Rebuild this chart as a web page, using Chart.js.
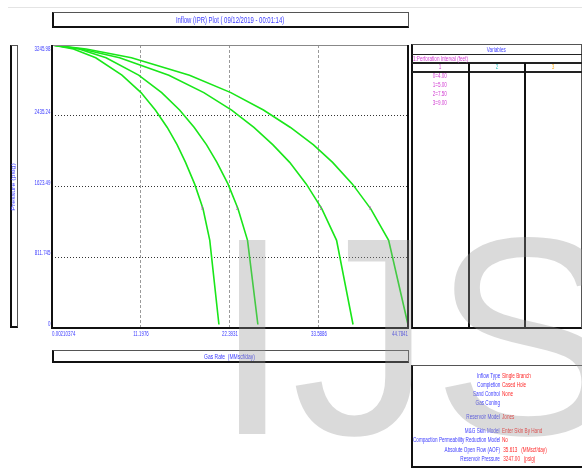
<!DOCTYPE html>
<html>
<head>
<meta charset="utf-8">
<title>Inflow (IPR) Plot</title>
<script src="https://cdn.jsdelivr.net/npm/chart.js@4.4.1/dist/chart.umd.min.js"></script>
<style>
 html, body { margin: 0; padding: 0; background: #fff; }
 #page { position: relative; width: 582px; height: 468px; overflow: hidden; font-family: "Liberation Sans", Arial, sans-serif; }
 #ipr { position: absolute; left: 0; top: 0; }
 .box { position: absolute; box-sizing: border-box; border: 1px solid #555; border-left: 2px solid #111; border-bottom: 2px solid #111; }
 .txt { position: absolute; white-space: pre; line-height: 10px; height: 10px; }
 .txt span { display: inline-block; transform: scaleX(0.66); }
 .blue { color: #3c3cff; }
 .red { color: #ff2a2a; }
 .mag { color: #d23cd2; }
 .teal { color: #33c8c8; }
 .orange { color: #ffb020; }
 .hline { position: absolute; height: 0; border-top: 2px solid #222; }
 .vline { position: absolute; width: 0; border-left: 2px solid #111; }
 #mark { position: absolute; left: 213px; top: 196px; font-size: 282px; line-height: 282px; color: rgba(150,150,150,0.35); pointer-events: none; white-space: pre; }
</style>
</head>
<body>
<div id="page">
 <div style="position:absolute;left:8px;top:7px;width:574px;border-top:1px solid #e4e4e4"></div>
 <div class="box" style="left:52px;top:12px;width:357px;height:16px"></div>
 <div class="box" style="left:10px;top:45px;width:8px;height:283px"></div>
 <canvas id="ipr" width="582" height="468"></canvas>
 <div class="box" style="left:52px;top:350px;width:357px;height:13px"></div>

 <div class="box" style="left:411px;top:44px;width:171px;height:285px"></div>
 <div class="hline" style="left:412px;top:54px;width:170px;border-top-width:1px"></div>
 <div class="hline" style="left:412px;top:62px;width:170px"></div>
 <div class="hline" style="left:412px;top:71px;width:170px"></div>
 <div class="vline" style="left:468px;top:63px;height:265px"></div>
 <div class="vline" style="left:524px;top:63px;height:265px"></div>

 <div class="box" style="left:411px;top:365px;width:173px;height:103px"></div>
 <div id="texts"></div>
 <div id="mark">IJS</div>
</div>

<script>
// IPR curves, one per perforation interval (rate in MMscf/day vs pressure in psig)
const pressures = [3245.98, 3200, 3100, 2900, 2700, 2500, 2300, 2100, 1900, 1650, 1367, 1006, 40];
const rate0 = [0.0021, 2.7, 5.5, 8.8, 11.2, 13.0, 14.5, 15.75, 16.8, 17.95, 19.0, 19.85, 21.0];
const rate1 = [0.0021, 3.4, 6.8, 10.9, 13.8, 16.05, 17.9, 19.45, 20.75, 22.15, 23.4, 24.6, 25.9];
const rate2 = [0.0021, 3.7, 8.5, 14.7, 19.1, 22.6, 25.4, 27.8, 29.9, 32.0, 33.95, 35.8, 37.87];
const rate3 = [0.0021, 4.3, 10.0, 17.3, 22.5, 26.6, 30.0, 32.9, 35.3, 37.8, 40.1, 42.35, 44.78];
const curveNames = ["0", "1", "2", "3"];
const perfLabels = ["0=4.00", "1=5.00", "2=7.50", "3=9.00"];
const xTicks = [0.00210374, 11.1976, 22.3931, 33.5886, 44.7841];
const yTicks = [0, 811.745, 1623.49, 2435.24, 3245.98];
const infoLabels = ["Inflow Type", "Completion", "Sand Control", "Gas Coning", "Reservoir Model",
 "M&G Skin Model", "Compaction Permeability Reduction Model", "Absolute Open Flow (AOF)", "Reservoir Pressure"];
const infoValues = ["Single Branch", "Cased Hole", "None", "", "Jones",
 "Enter Skin By Hand", "No", " 35.613   (MMscf/day)", " 3247.00   (psig)"];
const markerIndex = 10;

const texts = document.getElementById("texts");
function put(text, x, y, align, size, cls) {
 const d = document.createElement("div");
 d.className = "txt " + cls;
 d.style.fontSize = size + "px";
 d.style.top = (y - 5) + "px";
 d.style.textAlign = align;
 if (align === "center") { d.style.left = (x - 150) + "px"; d.style.width = "300px"; }
 else if (align === "right") { d.style.left = (x - 300) + "px"; d.style.width = "300px"; }
 else { d.style.left = x + "px"; }
 const s = document.createElement("span");
 s.textContent = text;
 s.style.transformOrigin = align === "center" ? "50% 50%" : align === "right" ? "100% 50%" : "0 50%";
 d.appendChild(s);
 texts.appendChild(d);
 return s;
}

put("Inflow (IPR) Plot ( 09/12/2019 - 00:01:14)", 230, 20, "center", 9, "blue");
put("Gas Rate  (MMscf/day)", 230, 356.5, "center", 7.5, "blue");
const yTitle = put("Pressure (psig)", 14, 187, "center", 7, "blue");
yTitle.parentNode.style.transform = "rotate(-90deg)";
yTitle.style.transform = "scaleY(0.66)";

put("Variables", 496, 49.5, "center", 7, "blue");
put("1:Perforation Interval (feet)", 413, 58.5, "left", 7, "mag");
put("1", 440, 67, "center", 7, "mag");
put("2", 497, 67, "center", 7, "teal");
put("3", 553, 67, "center", 7, "orange");
perfLabels.forEach((t, i) => put(t, 440, 76.3 + i * 8.8, "center", 7, "mag"));

const infoY = [375.7, 384.7, 394, 403, 417.3, 431, 440, 449.7, 458.7];
infoLabels.forEach((t, i) => {
 put(t, 500, infoY[i], "right", 7, "blue");
 if (infoValues[i]) put(infoValues[i], 502, infoY[i], "left", 7, "red");
});

function squeezed(ctx, text, x, y, align, base) {
 ctx.save();
 ctx.translate(x, y);
 ctx.scale(0.68, 1);
 ctx.textAlign = align;
 ctx.textBaseline = base;
 ctx.fillText(text, 0, 0);
 ctx.restore();
}

const plotDecor = {
 id: "plotDecor",
 afterDatasetsDraw(chart) {
  const { ctx, chartArea: a, scales } = chart;
  ctx.save();
  ctx.fillStyle = "#d23cd2";
  ctx.font = "6px 'Liberation Sans', Arial, sans-serif";
  chart.data.datasets.forEach((ds, i) => {
   const p = chart.getDatasetMeta(i).data[markerIndex];
   squeezed(ctx, curveNames[i], p.x - 1, p.y, "center", "middle");
  });

  ctx.strokeStyle = "#888";
  ctx.lineWidth = 1;
  ctx.beginPath(); ctx.moveTo(a.left, a.top + 0.5); ctx.lineTo(a.right, a.top + 0.5); ctx.stroke();
  ctx.strokeStyle = "#111";
  ctx.lineWidth = 2;
  ctx.beginPath();
  ctx.moveTo(a.left, a.top); ctx.lineTo(a.left, a.bottom);
  ctx.lineTo(a.right, a.bottom); ctx.lineTo(a.right, a.top);
  ctx.stroke();

  ctx.fillStyle = "#3c3cff";
  ctx.font = "6.5px 'Liberation Sans', Arial, sans-serif";
  yTicks.forEach((v, i) => {
   const y = scales.y.getPixelForValue(v);
   if (i === yTicks.length - 1) squeezed(ctx, String(v), a.left - 1.5, y + 1, "right", "top");
   else squeezed(ctx, String(v), a.left - 1.5, y - 0.5, "right", "bottom");
  });
  xTicks.forEach((v, i) => {
   const x = scales.x.getPixelForValue(v);
   const align = i === 0 ? "left" : i === xTicks.length - 1 ? "right" : "center";
   squeezed(ctx, String(v), x, a.bottom + 2.5, align, "top");
  });
  ctx.restore();
 },
};

const rates = [rate0, rate1, rate2, rate3];
new Chart(document.getElementById("ipr"), {
 type: "line",
 data: {
  datasets: rates.map((xs, i) => ({
   label: curveNames[i],
   data: xs.map((x, j) => ({ x, y: pressures[j] })),
   borderColor: "#19e619",
   borderWidth: 1.6,
   pointRadius: 0,
   tension: 0,
   fill: false,
  })),
 },
 options: {
  responsive: false,
  animation: false,
  devicePixelRatio: 1,
  layout: { padding: { left: 52, top: 45, right: 174, bottom: 140 } },
  plugins: { legend: { display: false }, tooltip: { enabled: false } },
  scales: {
   x: {
    type: "linear",
    min: xTicks[0],
    max: xTicks[xTicks.length - 1],
    afterBuildTicks: (s) => { s.ticks = xTicks.map((value) => ({ value })); },
    ticks: { display: false },
    grid: { color: "#9a9a9a", lineWidth: 1, drawTicks: false },
    border: { display: false, dash: [3, 2] },
   },
   y: {
    type: "linear",
    min: yTicks[0],
    max: yTicks[yTicks.length - 1],
    afterBuildTicks: (s) => { s.ticks = yTicks.map((value) => ({ value })); },
    ticks: { display: false },
    grid: { color: "#333", lineWidth: 1, drawTicks: false },
    border: { display: false, dash: [1, 2] },
   },
  },
 },
 plugins: [plotDecor],
});
</script>
</body>
</html>
